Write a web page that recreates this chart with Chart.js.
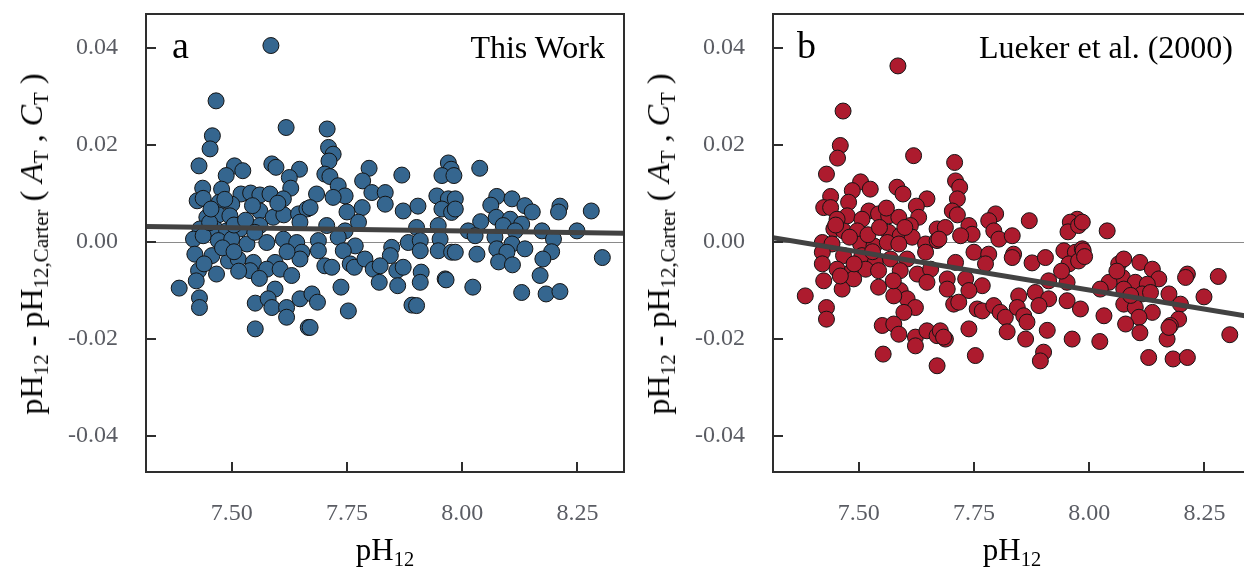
<!DOCTYPE html>
<html>
<head>
<meta charset="utf-8">
<script src="https://cdn.jsdelivr.net/npm/chart.js@4.4.1/dist/chart.umd.min.js"></script>
<style>
html, body { margin: 0; padding: 0; background: #fff; }
body { width: 1244px; height: 569px; overflow: hidden; position: relative; font-family: "Liberation Serif", "Times New Roman", serif; color: #000; }
.panel { position: absolute; top: 0; width: 640px; height: 569px; }
.panel canvas { position: absolute; left: 0; top: 0; }
.ytitle { position: absolute; left: 31px; top: 244px; white-space: nowrap; font-size: 32px; line-height: 1; transform: translate(-50%, -50%) rotate(-90deg); }
.xtitle { position: absolute; left: 385px; top: 534px; white-space: nowrap; font-size: 31px; line-height: 1; transform: translateX(-50%); }
.tag { position: absolute; top: 26px; font-size: 38px; line-height: 1; }
.src { position: absolute; top: 31px; right: 35px; font-size: 32px; line-height: 1; white-space: nowrap; }
sub { font-size: 0.66em; vertical-align: -0.28em; line-height: 0; }
</style>
</head>
<body>
<div class="panel" style="left:0">
  <canvas id="chartA" width="640" height="569"></canvas>
  <div class="ytitle">pH<sub>12</sub> - pH<sub>12,Carter</sub> ( <i>A</i><sub>T</sub> , <i>C</i><sub>T</sub> )</div>
  <div class="xtitle">pH<sub>12</sub></div>
  <div class="tag" style="left:172px">a</div>
  <div class="src">This Work</div>
</div>
<div class="panel" style="left:627px">
  <canvas id="chartB" width="640" height="569"></canvas>
  <div class="ytitle">pH<sub>12</sub> - pH<sub>12,Carter</sub> ( <i>A</i><sub>T</sub> , <i>C</i><sub>T</sub> )</div>
  <div class="xtitle">pH<sub>12</sub></div>
  <div class="tag" style="left:170px">b</div>
  <div class="src" style="right:34px">Lueker et al. (2000)</div>
</div>
<script>
const xTicks = [7.50, 7.75, 8.00, 8.25];
const yTicks = [-0.04, -0.02, 0.00, 0.02, 0.04];
const xRange = [7.314, 8.351];
const yRange = [-0.0474, 0.047];

// regression lines (end points)
const fitThisWork = [[7.314, 0.0032], [8.351, 0.0018]];
const fitLueker = [[7.314, 0.0009], [8.351, -0.0154]];

// pH12, pH12 - pH12,Carter
const thisWork = [
  [7.585,0.0405],[7.466,0.0291],[7.458,0.0219],[7.453,0.0192],[7.429,0.0157],[7.618,0.0236],
  [7.707,0.0233],[7.710,0.0195],[7.720,0.0181],[7.711,0.0167],[7.702,0.0140],[7.713,0.0135],
  [7.587,0.0161],[7.596,0.0154],[7.647,0.0150],[7.506,0.0157],[7.524,0.0147],[7.488,0.0137],
  [7.625,0.0133],[7.798,0.0152],[7.869,0.0138],[7.970,0.0163],[7.976,0.0150],[7.956,0.0137],
  [7.982,0.0137],[8.038,0.0152],[7.784,0.0126],[7.628,0.0111],[7.437,0.0111],[7.425,0.0085],
  [7.438,0.0090],[7.478,0.0109],[7.520,0.0099],[7.541,0.0101],[7.561,0.0097],[7.583,0.0099],
  [7.612,0.0089],[7.473,0.0082],[7.500,0.0078],[7.561,0.0064],[7.590,0.0051],[7.613,0.0056],
  [7.645,0.0058],[7.663,0.0068],[7.471,0.0056],[7.496,0.0054],[7.446,0.0051],[7.431,0.0027],
  [7.464,0.0027],[7.489,0.0023],[7.518,0.0027],[7.561,0.0034],[7.648,0.0041],[7.417,0.0006],
  [7.438,0.0013],[7.471,0.0003],[7.500,0.0006],[7.533,-0.0004],[7.576,-0.0001],[7.612,0.0006],
  [7.641,-0.0001],[7.420,-0.0025],[7.457,-0.0028],[7.493,-0.0039],[7.514,-0.0035],[7.547,-0.0042],
  [7.594,-0.0042],[7.652,-0.0021],[7.648,-0.0035],[7.428,-0.0059],[7.467,-0.0066],[7.540,-0.0059],
  [7.576,-0.0056],[7.605,-0.0056],[7.630,-0.0069],[7.423,-0.0080],[7.594,-0.0097],[7.386,-0.0095],
  [7.430,-0.0115],[7.430,-0.0135],[7.551,-0.0126],[7.579,-0.0117],[7.587,-0.0135],[7.619,-0.0135],
  [7.619,-0.0155],[7.648,-0.0117],[7.551,-0.0179],[7.666,-0.0176],[7.731,0.0116],[7.684,0.0099],
  [7.746,0.0095],[7.720,0.0092],[7.804,0.0102],[7.833,0.0102],[7.670,0.0071],[7.750,0.0062],
  [7.783,0.0071],[7.833,0.0078],[7.872,0.0064],[7.904,0.0074],[7.945,0.0095],[7.970,0.0089],
  [7.956,0.0068],[7.977,0.0061],[7.706,0.0034],[7.775,0.0041],[7.746,0.0023],[7.901,0.0030],
  [7.948,0.0034],[7.688,0.0003],[7.731,0.0010],[7.768,-0.0008],[7.847,-0.0011],[7.883,-0.0001],
  [7.909,0.0003],[7.952,0.0006],[7.688,-0.0018],[7.742,-0.0018],[7.844,-0.0028],[7.909,-0.0018],
  [7.948,-0.0018],[7.977,-0.0021],[7.702,-0.0049],[7.717,-0.0052],[7.757,-0.0045],[7.766,-0.0052],
  [7.789,-0.0035],[7.807,-0.0056],[7.822,-0.0049],[7.858,-0.0059],[7.872,-0.0052],[7.911,-0.0062],
  [7.963,-0.0076],[7.737,-0.0093],[7.820,-0.0083],[7.860,-0.0090],[7.909,-0.0083],[7.674,-0.0107],
  [7.686,-0.0124],[7.753,-0.0142],[7.891,-0.0130],[7.901,-0.0131],[7.670,-0.0176],[7.985,0.0089],
  [7.985,0.0068],[8.075,0.0094],[8.108,0.0089],[8.062,0.0076],[8.136,0.0075],[8.152,0.0062],
  [8.212,0.0074],[8.209,0.0062],[8.280,0.0064],[8.040,0.0042],[8.074,0.0051],[8.104,0.0047],
  [8.129,0.0037],[8.089,0.0034],[8.013,0.0023],[8.028,0.0013],[8.071,0.0010],[8.115,0.0023],
  [8.173,0.0023],[8.249,0.0023],[8.198,0.0006],[8.108,-0.0004],[7.985,-0.0021],[8.032,-0.0025],
  [8.075,-0.0014],[8.097,-0.0021],[8.136,-0.0014],[8.194,-0.0020],[8.175,-0.0035],[8.079,-0.0041],
  [8.109,-0.0047],[8.304,-0.0032],[8.169,-0.0069],[8.023,-0.0093],[8.129,-0.0104],[8.182,-0.0107],
  [8.212,-0.0102],[7.965,-0.0078],[7.452,0.0040],[7.480,-0.0012],[7.505,0.0035],[7.530,0.0045],
  [7.550,0.0020],[7.440,-0.0045],[7.515,-0.0060],[7.620,-0.0020],[7.560,-0.0075],[7.600,0.0080],
  [7.545,0.0075],[7.505,-0.0020],[7.485,0.0088],[7.455,0.0068]
];

const lueker = [
  [7.585,0.0363],[7.466,0.0270],[7.460,0.0199],[7.454,0.0173],[7.430,0.0140],[7.619,0.0178],
  [7.708,0.0164],[7.710,0.0126],[7.719,0.0113],[7.714,0.0089],[7.703,0.0064],[7.714,0.0056],
  [7.504,0.0124],[7.525,0.0109],[7.486,0.0106],[7.583,0.0113],[7.596,0.0099],[7.439,0.0094],
  [7.648,0.0089],[7.625,0.0074],[7.478,0.0082],[7.424,0.0071],[7.439,0.0071],[7.522,0.0064],
  [7.543,0.0058],[7.565,0.0054],[7.587,0.0051],[7.630,0.0051],[7.475,0.0054],[7.453,0.0047],
  [7.507,0.0047],[7.612,0.0034],[7.446,0.0027],[7.467,0.0023],[7.497,0.0023],[7.565,0.0020],
  [7.590,0.0013],[7.616,0.0010],[7.670,0.0027],[7.421,-0.0001],[7.442,-0.0004],[7.504,-0.0004],
  [7.533,-0.0008],[7.562,-0.0001],[7.587,-0.0004],[7.645,-0.0004],[7.670,0.0003],[7.421,-0.0021],
  [7.467,-0.0028],[7.507,-0.0028],[7.536,-0.0042],[7.569,-0.0035],[7.605,-0.0035],[7.645,-0.0021],
  [7.421,-0.0045],[7.453,-0.0056],[7.486,-0.0059],[7.515,-0.0056],[7.543,-0.0059],[7.590,-0.0059],
  [7.627,-0.0066],[7.656,-0.0056],[7.424,-0.0080],[7.464,-0.0097],[7.489,-0.0076],[7.543,-0.0093],
  [7.648,-0.0083],[7.384,-0.0111],[7.430,-0.0135],[7.430,-0.0159],[7.590,-0.0100],[7.605,-0.0117],
  [7.623,-0.0135],[7.576,-0.0111],[7.598,-0.0145],[7.551,-0.0172],[7.576,-0.0169],[7.587,-0.0190],
  [7.623,-0.0196],[7.623,-0.0214],[7.648,-0.0183],[7.670,-0.0193],[7.553,-0.0231],[7.670,-0.0255],
  [7.797,0.0058],[7.782,0.0044],[7.870,0.0044],[7.974,0.0047],[7.959,0.0041],[7.954,0.0021],
  [7.977,0.0034],[7.688,0.0030],[7.739,0.0034],[7.746,0.0016],[7.721,0.0013],[7.793,0.0023],
  [7.804,0.0006],[7.833,0.0013],[7.674,0.0006],[7.750,-0.0021],[7.782,-0.0025],[7.836,-0.0025],
  [7.833,-0.0032],[7.710,-0.0042],[7.775,-0.0045],[7.876,-0.0043],[7.905,-0.0032],[7.945,-0.0018],
  [7.970,-0.0021],[7.985,-0.0014],[7.956,-0.0045],[7.977,-0.0039],[7.692,-0.0076],[7.732,-0.0076],
  [7.768,-0.0090],[7.739,-0.0100],[7.692,-0.0097],[7.912,-0.0080],[7.883,-0.0104],[7.952,-0.0083],
  [7.952,-0.0121],[7.981,-0.0138],[7.912,-0.0117],[7.847,-0.0111],[7.706,-0.0128],[7.717,-0.0124],
  [7.757,-0.0138],[7.768,-0.0142],[7.793,-0.0131],[7.807,-0.0145],[7.818,-0.0155],[7.844,-0.0135],
  [7.858,-0.0152],[7.865,-0.0165],[7.891,-0.0131],[7.739,-0.0179],[7.677,-0.0183],[7.688,-0.0200],
  [7.822,-0.0185],[7.862,-0.0200],[7.909,-0.0182],[7.963,-0.0200],[7.753,-0.0234],[7.901,-0.0227],
  [7.894,-0.0245],[8.039,0.0023],[7.985,0.0041],[7.987,-0.0018],[8.064,-0.0045],[8.075,-0.0035],
  [8.110,-0.0042],[8.137,-0.0056],[8.151,-0.0076],[8.213,-0.0066],[8.209,-0.0073],[8.280,-0.0071],
  [8.072,-0.0073],[8.100,-0.0083],[8.126,-0.0087],[8.043,-0.0083],[8.024,-0.0097],[8.075,-0.0097],
  [8.115,-0.0107],[8.133,-0.0104],[8.173,-0.0107],[8.249,-0.0113],[8.075,-0.0128],[8.100,-0.0135],
  [8.198,-0.0128],[8.032,-0.0152],[8.137,-0.0145],[8.108,-0.0155],[8.194,-0.0159],[8.079,-0.0169],
  [8.176,-0.0172],[8.110,-0.0187],[8.169,-0.0200],[8.305,-0.0191],[8.023,-0.0205],[8.129,-0.0238],
  [8.182,-0.0241],[8.213,-0.0238],[8.173,-0.0176],[7.684,-0.0196],[7.450,0.0035],[7.480,0.0010],
  [7.520,0.0015],[7.545,0.0030],[7.490,-0.0045],[7.530,-0.0020],[7.560,0.0070],[7.600,0.0030],
  [7.460,-0.0070],[7.575,-0.0080],[8.060,-0.0060],[8.090,-0.0110],[7.940,-0.0060],[7.990,-0.0030]
];

// box round the plot area and inward tick marks
const frame = {
  id: 'frame',
  afterDatasetsDraw(chart) {
    const {ctx, chartArea: a, scales: {x, y}} = chart;
    ctx.save();
    ctx.strokeStyle = '#2e2e2e';
    ctx.lineWidth = 2;
    ctx.strokeRect(a.left, a.top, a.right - a.left, a.bottom - a.top);
    ctx.beginPath();
    yTicks.forEach(v => {
      const py = Math.round(y.getPixelForValue(v));
      ctx.moveTo(a.left, py);
      ctx.lineTo(a.left + 10, py);
    });
    xTicks.forEach(v => {
      const px = Math.round(x.getPixelForValue(v));
      ctx.moveTo(px, a.bottom);
      ctx.lineTo(px, a.bottom - 10);
    });
    ctx.stroke();
    ctx.restore();
  }
};

const tickFont = {family: 'Liberation Serif', size: 24};

function makeChart(id, pts, fit, fill) {
  return new Chart(document.getElementById(id), {
    type: 'scatter',
    data: {
      datasets: [
        {
          type: 'line',
          data: fit.map(p => ({x: p[0], y: p[1]})),
          borderColor: '#424242',
          borderWidth: 5,
          pointRadius: 0,
          fill: false,
        },
        {
          data: pts.map(p => ({x: p[0], y: p[1]})),
          backgroundColor: fill,
          borderColor: '#141414',
          borderWidth: 1,
          pointRadius: 8,
        },
      ]
    },
    options: {
      responsive: false,
      animation: false,
      devicePixelRatio: 1,
      layout: {padding: {top: 14, right: 16, left: 0, bottom: 0}},
      plugins: {
        legend: {display: false},
        tooltip: {enabled: false},
      },
      scales: {
        x: {
          type: 'linear',
          min: xRange[0],
          max: xRange[1],
          afterBuildTicks: s => { s.ticks = xTicks.map(v => ({value: v})); },
          afterFit: s => { s.height = 97; s.paddingLeft = 0; s.paddingRight = 0; },
          grid: {display: false, drawTicks: false},
          border: {display: false},
          ticks: {
            padding: 27,
            color: '#5a5c63',
            font: tickFont,
            maxRotation: 0,
            autoSkip: false,
            callback: v => v.toFixed(2),
          },
        },
        y: {
          min: yRange[0],
          max: yRange[1],
          afterBuildTicks: s => { s.ticks = yTicks.map(v => ({value: v})); },
          afterFit: s => { s.width = 146; s.paddingTop = 0; s.paddingBottom = 0; },
          grid: {
            drawTicks: false,
            lineWidth: 1,
            color: c => (c.tick && c.tick.value === 0) ? '#8a8a8a' : 'rgba(0,0,0,0)',
          },
          border: {display: false},
          ticks: {
            padding: 28,
            color: '#5a5c63',
            font: tickFont,
            callback: v => v.toFixed(2),
          },
        },
      },
    },
    plugins: [frame],
  });
}

makeChart('chartA', thisWork, fitThisWork, '#35668f');
makeChart('chartB', lueker, fitLueker, '#ad1b2e');
</script>
</body>
</html>
